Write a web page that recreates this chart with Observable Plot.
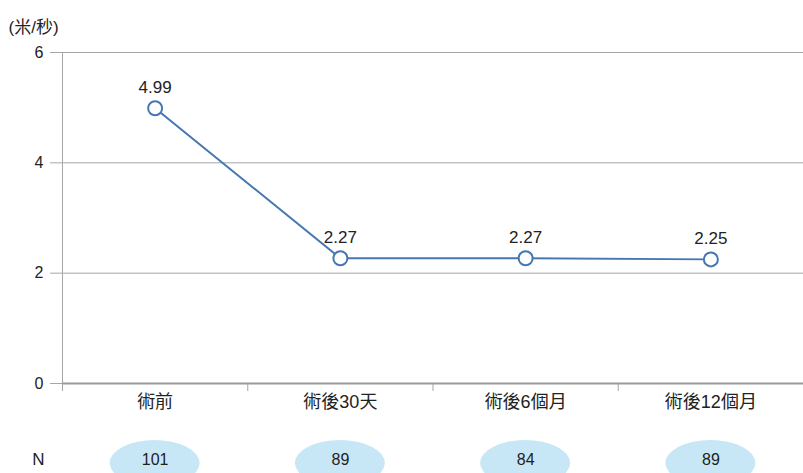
<!DOCTYPE html>
<html><head><meta charset="utf-8">
<script src="https://cdn.jsdelivr.net/npm/d3@7"></script>
<script src="https://cdn.jsdelivr.net/npm/@observablehq/plot@0.6"></script>
<style>body{margin:0;background:#fff} svg{display:block}</style>
</head><body><div id="chart"></div>
<script>
const categories = ["術前", "術後30天", "術後6個月", "術後12個月"];
const speeds = [4.99, 2.27, 2.27, 2.25];
const speedLabels = ["4.99", "2.27", "2.27", "2.25"];
const counts = [101, 89, 84, 89];
const yTicks = [0, 2, 4, 6];
const unitLabel = "(米/秒)";
const rowLabel = "N";

const data = categories.map((c, i) => ({i, c, v: speeds[i], label: speedLabels[i], n: counts[i]}));
const boundaries = d3.range(categories.length + 1).map(i => i - 0.5);

const font = '"Liberation Sans","Noto Sans CJK TC",sans-serif';
const blue = "#4677b1", gray = "#a6a6a6", ink = "#222";

const ellipses = (index, scales, values, dimensions) => {
  const g = d3.create("svg:g");
  const y0 = dimensions.height - dimensions.marginBottom + 80;
  g.selectAll("ellipse").data(data).join("ellipse")
    .attr("cx", d => scales.x(d.i)).attr("cy", y0)
    .attr("rx", 45).attr("ry", 23).attr("fill", "#c8e7f6");
  return g.node();
};

const chart = Plot.plot({
  width: 803, height: 473,
  marginTop: 52, marginBottom: 90, marginLeft: 62, marginRight: 0,
  style: {fontFamily: font, fontSize: "16px", color: ink, background: "#fff"},
  x: {type: "linear", domain: [-0.5, categories.length - 0.5], axis: null},
  y: {domain: [0, 6], axis: null},
  marks: [
    Plot.gridY(yTicks.filter(t => t > 0), {stroke: gray, strokeOpacity: 1}),
    Plot.axisY(yTicks, {tickSize: 12, tickFormat: () => "", stroke: gray, label: null}),
    Plot.text(yTicks, {y: d => d, text: d => String(d), frameAnchor: "left", dx: -19, textAnchor: "end", fontSize: 16, fill: ink}),
    Plot.ruleX([-0.5], {stroke: gray}),
    Plot.axisX(boundaries, {tickSize: 8, tickFormat: () => "", stroke: gray, label: null}),
    Plot.ruleY([0], {stroke: "#9a9a9a", strokeWidth: 2}),
    Plot.text(data, {x: "i", text: "c", frameAnchor: "bottom", dy: 24, fontSize: 18, fill: ink}),
    Plot.line(data, {x: "i", y: "v", stroke: blue, strokeWidth: 2}),
    Plot.dot(data, {x: "i", y: "v", r: 7, fill: "white", stroke: blue, strokeWidth: 2}),
    Plot.text(data, {x: "i", y: "v", text: "label", dy: -21, fontSize: 17, fill: ink}),
    ellipses,
    Plot.text(data, {x: "i", text: d => String(d.n), frameAnchor: "bottom", dy: 81, fontSize: 16, fill: ink}),
    Plot.text([rowLabel], {text: d => d, frameAnchor: "bottom-left", dx: -24, dy: 81, textAnchor: "middle", fontSize: 17, fill: ink}),
    Plot.text([unitLabel], {text: d => d, frameAnchor: "top-left", dx: -54, dy: -32, textAnchor: "start", fontSize: 17, fill: ink})
  ]
});
document.getElementById("chart").append(chart);
</script>
</body></html>
